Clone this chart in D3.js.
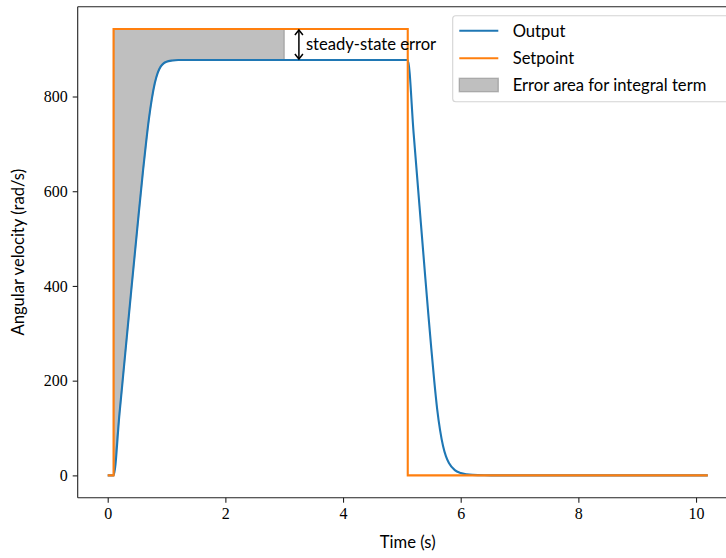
<!DOCTYPE html>
<html>
<head>
<meta charset="utf-8">
<script src="https://cdn.jsdelivr.net/npm/d3@7"></script>
<style>
  html, body { margin: 0; padding: 0; background: #fff; overflow: hidden; }
  svg { display: block; }
  .tick text { font-family: "Liberation Serif", "DejaVu Serif", serif; font-size: 16px; fill: #000; }
  .lab { font-family: Lato, "DejaVu Sans", sans-serif; font-size: 16.6px; fill: #000; }
</style>
</head>
<body>
<svg id="chart" width="726" height="558"></svg>
<script>
// Motor speed step response: controller output vs. commanded setpoint
const setpointTime  = [0, 0.1, 0.1, 5.1, 5.1, 10.2];
const setpointValue = [0, 0, 942.5, 942.5, 0, 0];

const outputTime  = [0, 0.1, 0.2, 0.3, 0.4, 0.5, 0.6, 0.65, 0.7, 0.75, 0.8, 0.85, 0.9, 0.95, 1.0, 1.1, 1.2, 1.4, 3.0,
                     5.1, 5.2, 5.3, 5.4, 5.45, 5.5, 5.55, 5.6, 5.65, 5.7, 5.75, 5.8, 5.9, 6.0, 6.1, 6.2, 6.4, 6.7, 10.2];
const outputValue = [0, 0, 130, 260, 390, 518, 643, 700, 752, 795, 828, 850, 863, 870, 873.5, 876, 877, 877, 877,
                     877, 722, 568, 415, 340, 268, 200, 140, 95, 62, 40, 26, 11, 5, 2.3, 1, 0.2, 0, 0];

// integral-error shading window
const errorStart = 0.1;
const errorEnd = 3.0;
const errorArrowTime = 3.25;
const steadyValue = 877;
const setpointHigh = 942.5;

const xTicks = [0, 2, 4, 6, 8, 10];
const yTicks = [0, 200, 400, 600, 800];
const legendLabels = ["Output", "Setpoint", "Error area for integral term"];

const blue = "#1f77b4", orange = "#ff7f0e";

const svg = d3.select("#chart");
const x = d3.scaleLinear().domain([-0.51, 10.71]).range([77.7, 737.8]);
const y = d3.scaleLinear().domain([-47.125, 989.625]).range([497.7, 6.7]);

const outPts = outputTime.map((t, i) => ({t, v: outputValue[i]}));
const spPts = setpointTime.map((t, i) => ({t, v: setpointValue[i]}));

// shaded integral area between setpoint and output
const areaPts = outPts.filter(d => d.t >= errorStart && d.t <= errorEnd);
const area = d3.area().x(d => x(d.t)).y0(d => y(d.v)).y1(() => y(setpointHigh)).curve(d3.curveMonotoneX);
svg.append("path").datum(areaPts).attr("d", area)
  .attr("fill", "#808080").attr("fill-opacity", 0.5)
  .attr("stroke", "#808080").attr("stroke-opacity", 0.5).attr("stroke-width", 1.4);

svg.append("path").datum(outPts)
  .attr("d", d3.line().x(d => x(d.t)).y(d => y(d.v)).curve(d3.curveMonotoneX))
  .attr("fill", "none").attr("stroke", blue).attr("stroke-width", 2.1);
svg.append("path").datum(spPts).attr("d", d3.line().x(d => x(d.t)).y(d => y(d.v)))
  .attr("fill", "none").attr("stroke", orange).attr("stroke-width", 2.1).attr("stroke-linejoin", "miter");

// steady-state error annotation (double arrow)
const ax = x(errorArrowTime), ay0 = y(setpointHigh), ay1 = y(steadyValue);
const ann = svg.append("g").attr("stroke", "#000").attr("stroke-width", 1.5).attr("fill", "none");
ann.append("line").attr("x1", ax).attr("x2", ax).attr("y1", ay0 + 1).attr("y2", ay1 - 1);
ann.append("path").attr("d", `M${ax - 4},${ay0 + 6}L${ax},${ay0 + 1}L${ax + 4},${ay0 + 6}`);
ann.append("path").attr("d", `M${ax - 4},${ay1 - 6}L${ax},${ay1 - 1}L${ax + 4},${ay1 - 6}`);
svg.append("text").attr("class", "lab").attr("x", ax + 7).attr("y", (ay0 + ay1) / 2 + 5.5)
  .text("steady-state error");

// axes
const xAxis = svg.append("g").attr("transform", "translate(0,497.7)")
  .call(d3.axisBottom(x).tickValues(xTicks).tickSize(5).tickPadding(5).tickFormat(d3.format("d")));
const yAxis = svg.append("g").attr("transform", "translate(77.7,0)")
  .call(d3.axisLeft(y).tickValues(yTicks).tickSize(5).tickPadding(5).tickFormat(d3.format("d")));
[xAxis, yAxis].forEach(g => {
  g.select(".domain").attr("stroke", "#222").attr("stroke-width", 1.1);
  g.selectAll(".tick line").attr("stroke", "#222").attr("stroke-width", 1.1);
});
xAxis.select(".domain").attr("d", "M77.7,0H737.8");
yAxis.select(".domain").attr("d", "M0,497.7V6.7");
// top spine
svg.append("line").attr("x1", 77.7).attr("x2", 737.8).attr("y1", 6.7).attr("y2", 6.7)
  .attr("stroke", "#222").attr("stroke-width", 1.1);

svg.append("text").attr("class", "lab").attr("x", 407.7).attr("y", 548).attr("text-anchor", "middle").text("Time (s)");
svg.append("text").attr("class", "lab").attr("transform", "translate(24,252.2) rotate(-90)")
  .attr("text-anchor", "middle").text("Angular velocity (rad/s)");

// legend
const lg = svg.append("g");
lg.append("rect").attr("x", 452.7).attr("y", 15.7).attr("width", 282).attr("height", 86).attr("rx", 3)
  .attr("fill", "#fff").attr("fill-opacity", 0.8).attr("stroke", "#d4d4d4").attr("stroke-width", 1.1);
const rowsY = [30.7, 58.3, 85];
lg.append("line").attr("x1", 459.3).attr("x2", 498.3).attr("y1", rowsY[0]).attr("y2", rowsY[0])
  .attr("stroke", blue).attr("stroke-width", 2.1);
lg.append("line").attr("x1", 459.3).attr("x2", 498.3).attr("y1", rowsY[1]).attr("y2", rowsY[1])
  .attr("stroke", orange).attr("stroke-width", 2.1);
lg.append("rect").attr("x", 459.3).attr("y", rowsY[2] - 6.7).attr("width", 39).attr("height", 13.4)
  .attr("fill", "#808080").attr("fill-opacity", 0.5).attr("stroke", "#808080").attr("stroke-opacity", 0.5).attr("stroke-width", 1.4);
legendLabels.forEach((s, i) => {
  lg.append("text").attr("class", "lab").attr("x", 512.7).attr("y", rowsY[i] + 6).text(s);
});
</script>
</body>
</html>
